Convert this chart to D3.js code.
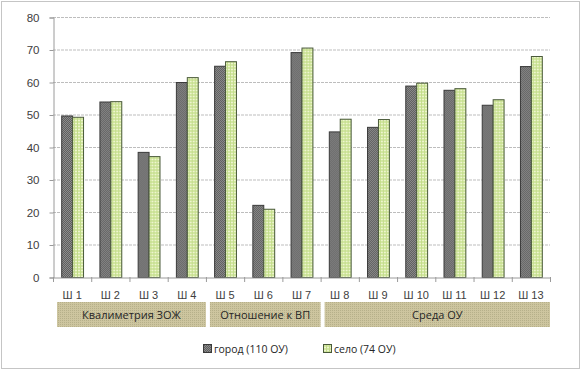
<!DOCTYPE html>
<html>
<head>
<meta charset="utf-8">
<script src="https://cdn.jsdelivr.net/npm/d3@7"></script>
<style>
  body { margin: 0; background: #fff; }
  svg { display: block; font-family: "Open Sans", "Noto Sans", sans-serif; }
</style>
</head>
<body>
<svg width="581" height="370"></svg>
<script>
const categories = ["Ш 1", "Ш 2", "Ш 3", "Ш 4", "Ш 5", "Ш 6", "Ш 7", "Ш 8", "Ш 9", "Ш 10", "Ш 11", "Ш 12", "Ш 13"];
const gorod = [49.7, 54.0, 38.5, 60.0, 65.0, 22.2, 69.2, 44.8, 46.2, 58.9, 57.6, 53.0, 64.9];
const selo = [49.3, 54.1, 37.2, 61.5, 66.4, 21.0, 70.6, 48.7, 48.6, 59.8, 58.1, 54.7, 68.0];
const seriesNames = ["город (110 ОУ)", "село (74 ОУ)"];
const groups = [
  { name: "Квалиметрия ЗОЖ", from: 0, to: 3 },
  { name: "Отношение к ВП", from: 4, to: 6 },
  { name: "Среда ОУ", from: 7, to: 12 }
];
const yTicks = [0, 10, 20, 30, 40, 50, 60, 70, 80];

const svg = d3.select("svg");
const margin = { left: 53, right: 31, top: 17, bottom: 93 };
const W = 581, H = 370;

// patterns that imitate the hatched fills
const defs = svg.append("defs");
const pDark = defs.append("pattern").attr("id", "pDark")
  .attr("width", 2).attr("height", 2).attr("patternUnits", "userSpaceOnUse");
pDark.append("rect").attr("width", 2).attr("height", 2).attr("fill", "#8c8c8c");
pDark.append("rect").attr("width", 1).attr("height", 1).attr("fill", "#5e5e5e");
pDark.append("rect").attr("x", 1).attr("y", 1).attr("width", 1).attr("height", 1).attr("fill", "#5e5e5e");

const pGreen = defs.append("pattern").attr("id", "pGreen")
  .attr("width", 3).attr("height", 3).attr("patternUnits", "userSpaceOnUse");
pGreen.append("rect").attr("width", 3).attr("height", 3).attr("fill", "#d3e7a2");
pGreen.append("rect").attr("width", 3).attr("height", 1).attr("fill", "#eef5cf");
pGreen.append("rect").attr("width", 1).attr("height", 3).attr("fill", "#c2dc8a");

const pTan = defs.append("pattern").attr("id", "pTan")
  .attr("width", 2).attr("height", 2).attr("patternUnits", "userSpaceOnUse");
pTan.append("rect").attr("width", 2).attr("height", 2).attr("fill", "#cdc59f");
pTan.append("rect").attr("width", 1).attr("height", 1).attr("fill", "#b6b08a");

// dotted frame
svg.append("rect").attr("x", 1.5).attr("y", 1.5).attr("width", W - 3).attr("height", H - 3)
  .attr("fill", "none").attr("stroke", "#8a8a8a").attr("stroke-dasharray", "1,1");

const x = d3.scaleBand().domain(categories).range([margin.left, W - margin.right]);
const x1 = d3.scaleBand().domain([0, 1]).range([0, x.bandwidth()]).paddingInner(0).paddingOuter(0.75);
const y = d3.scaleLinear().domain([0, 80]).range([H - margin.bottom, margin.top]);

// gridlines
svg.append("g").selectAll("line").data(yTicks.slice(1)).join("line")
  .attr("x1", margin.left).attr("x2", W - margin.right)
  .attr("y1", d => y(d) + 0.5).attr("y2", d => y(d) + 0.5)
  .attr("stroke", "#bdbdbd").attr("stroke-dasharray", "3,1");

// y axis
const yAxis = svg.append("g").attr("transform", `translate(${margin.left + 0.5},0.5)`)
  .call(d3.axisLeft(y).tickValues(yTicks).tickSize(4).tickPadding(10));
yAxis.select(".domain").attr("stroke", "#9a9a9a");
yAxis.selectAll(".tick line").attr("stroke", "#9a9a9a");
yAxis.selectAll("text").attr("fill", "#404040").style("font-size", "11.5px");

// bars
const data = categories.map((c, i) => ({ c, v: [gorod[i], selo[i]] }));
const bars = svg.append("g").selectAll("g").data(data).join("g")
  .attr("transform", d => `translate(${x(d.c)},0)`);
bars.selectAll("rect").data(d => d.v.map((v, k) => ({ v, k }))).join("rect")
  .attr("x", d => x1(d.k) + 0.5)
  .attr("width", x1.bandwidth())
  .attr("y", d => y(d.v) + 0.5)
  .attr("height", d => y(0) - y(d.v))
  .attr("fill", d => d.k === 0 ? "url(#pDark)" : "url(#pGreen)")
  .attr("stroke", d => d.k === 0 ? "#3a3a3a" : "#4a5a3a")
  .attr("stroke-width", 1);

// x axis
const xAxis = svg.append("g").attr("transform", `translate(0,${y(0) + 0.5})`)
  .call(d3.axisBottom(x).tickSize(0).tickPadding(14));
xAxis.select(".domain").attr("stroke", "#9a9a9a");
xAxis.selectAll("text").attr("fill", "#404040").style("font-size", "11px");
svg.append("g").selectAll("line").data(d3.range(categories.length + 1)).join("line")
  .attr("x1", i => margin.left + i * x.step() + 0.5).attr("x2", i => margin.left + i * x.step() + 0.5)
  .attr("y1", y(0)).attr("y2", y(0) + 5)
  .attr("stroke", "#9a9a9a");

// group boxes
const gb = svg.append("g").selectAll("g").data(groups).join("g");
gb.append("rect")
  .attr("x", d => x(categories[d.from]) + 4)
  .attr("y", 302)
  .attr("width", d => x(categories[d.to]) + x.bandwidth() - x(categories[d.from]) - 4)
  .attr("height", 25)
  .attr("fill", "url(#pTan)");
gb.append("text")
  .attr("x", d => (x(categories[d.from]) + 4 + x(categories[d.to]) + x.bandwidth()) / 2)
  .attr("y", 319)
  .attr("text-anchor", "middle")
  .attr("fill", "#262626")
  .style("font-size", "11px")
  .text(d => d.name);

// legend
const legendX = [203, 323];
const lg = svg.append("g").selectAll("g").data(seriesNames).join("g")
  .attr("transform", (d, i) => `translate(${legendX[i]},344)`);
lg.append("rect").attr("width", 8).attr("height", 8).attr("x", 0.5).attr("y", 0.5)
  .attr("fill", (d, i) => i === 0 ? "url(#pDark)" : "url(#pGreen)")
  .attr("stroke", (d, i) => i === 0 ? "#3a3a3a" : "#4a5a3a");
lg.append("text").attr("x", 11).attr("y", 9)
  .attr("fill", "#262626").style("font-size", "10.5px").text(d => d);
</script>
</body>
</html>
